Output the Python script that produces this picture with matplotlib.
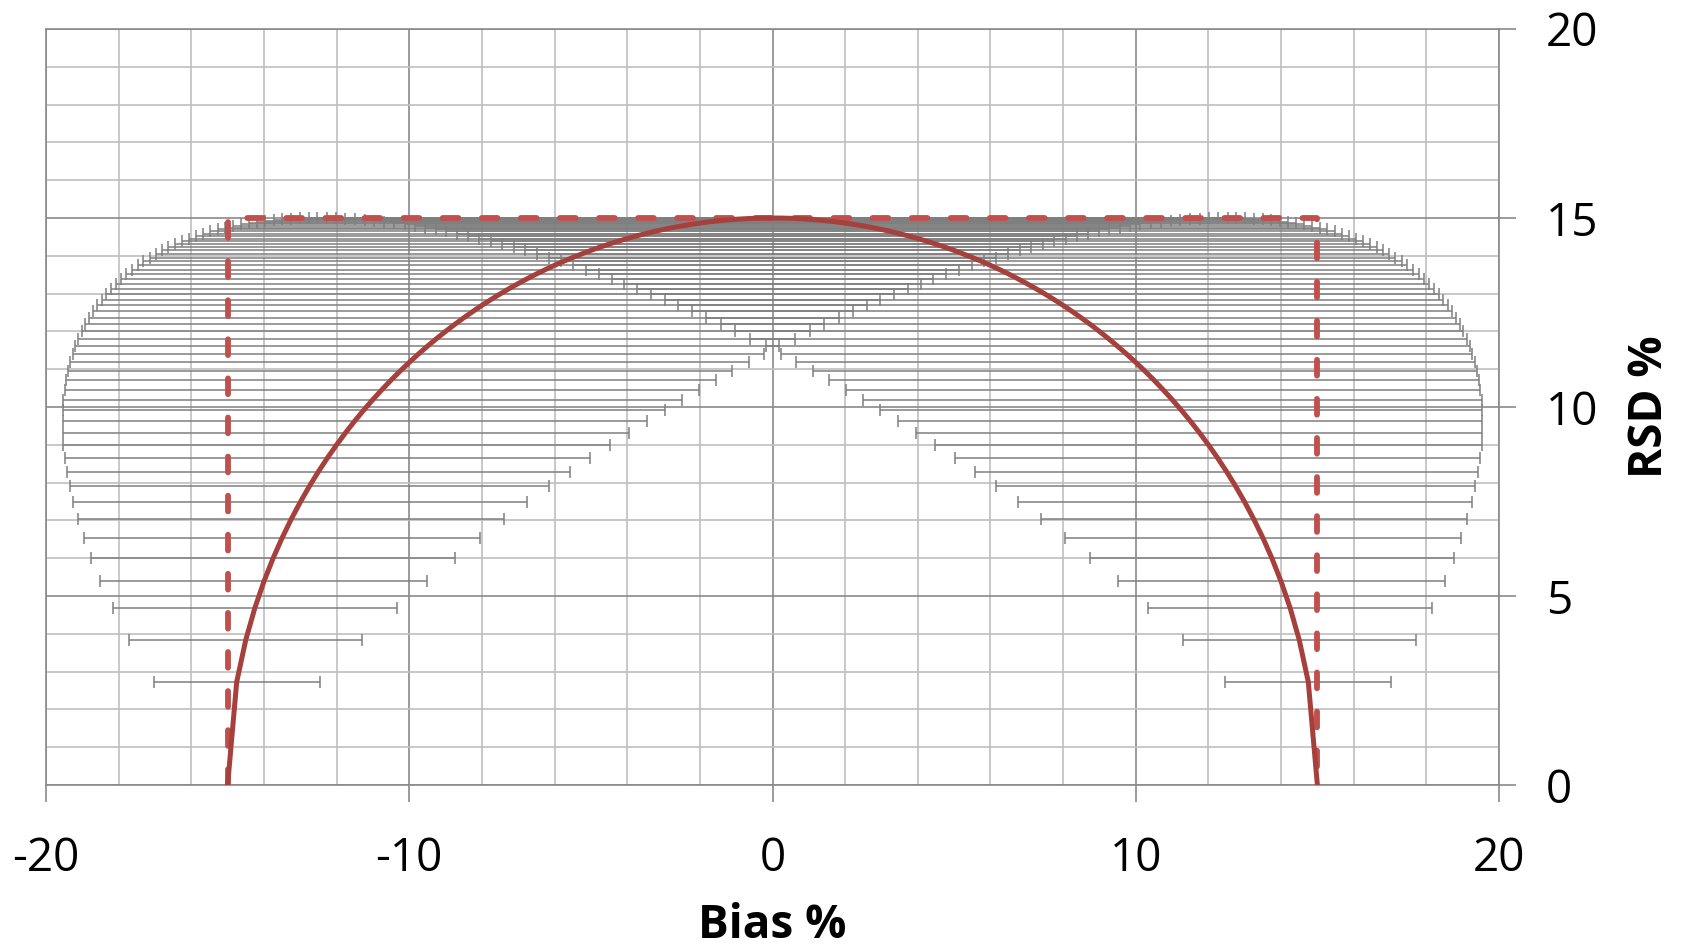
import matplotlib
matplotlib.use('Agg')
import matplotlib.pyplot as plt
from matplotlib.ticker import MultipleLocator

plt.rcParams['font.family'] = ['Open Sans', 'DejaVu Sans']
plt.rcParams['axes.unicode_minus'] = False

# right half of the chart (bias >= 0); the left half is its mirror image
bias_half = [0.0, 0.25, 0.5, 0.75, 1.0, 1.25, 1.5, 1.75, 2.0, 2.25,
             2.5, 2.75, 3.0, 3.25, 3.5, 3.75, 4.0, 4.25, 4.5, 4.75,
             5.0, 5.25, 5.5, 5.75, 6.0, 6.25, 6.5, 6.75, 7.0, 7.25,
             7.5, 7.75, 8.0, 8.25, 8.5, 8.75, 9.0, 9.25, 9.5, 9.75,
             10.0, 10.25, 10.5, 10.75, 11.0, 11.25, 11.5, 11.75, 12.0, 12.25,
             12.5, 12.75, 13.0, 13.25, 13.5, 13.75, 14.0, 14.25, 14.5, 14.75]
rsd_half = [15.00, 14.998, 14.992, 14.981, 14.967, 14.948, 14.925, 14.898, 14.866, 14.830,
            14.790, 14.746, 14.697, 14.644, 14.586, 14.524, 14.457, 14.385, 14.309, 14.228,
            14.142, 14.051, 13.955, 13.854, 13.748, 13.636, 13.519, 13.395, 13.266, 13.132,
            12.990, 12.843, 12.689, 12.527, 12.359, 12.184, 12.000, 11.808, 11.608, 11.399,
            11.180, 10.952, 10.712, 10.461, 10.198, 9.922, 9.631, 9.324, 9.000, 8.657,
            8.292, 7.902, 7.483, 7.031, 6.538, 5.995, 5.385, 4.684, 3.841, 2.727]
err_half = [12.53, 12.52, 12.52, 12.51, 12.50, 12.48, 12.46, 12.44, 12.41, 12.38,
            12.35, 12.31, 12.27, 12.23, 12.18, 12.13, 12.07, 12.01, 11.95, 11.88,
            11.81, 11.73, 11.65, 11.57, 11.48, 11.39, 11.29, 11.18, 11.08, 10.97,
            10.85, 10.72, 10.60, 10.46, 10.32, 10.17, 10.02, 9.86, 9.69, 9.52,
            9.34, 9.14, 8.94, 8.74, 8.52, 8.28, 8.04, 7.79, 7.52, 7.23,
            6.92, 6.60, 6.25, 5.87, 5.46, 5.01, 4.50, 3.91, 3.21, 2.28]

# acceptance limits (dashed box) and the end points of the curve on the x axis
limit_x = [-15, -15, 15, 15]
limit_y = [0, 15, 15, 0]
curve_end_x = [-15, 15]
curve_end_y = [0, 0]

bias = [-b for b in reversed(bias_half[1:])] + bias_half
rsd = list(reversed(rsd_half[1:])) + rsd_half
err = list(reversed(err_half[1:])) + err_half

fig = plt.figure(figsize=(16.85, 9.47), dpi=100)
ax = fig.add_axes([46 / 1685, 1 - 785 / 947, (1499 - 46) / 1685, (785 - 29) / 947])

ax.errorbar(bias, rsd, xerr=err, fmt='none', ecolor='#7f7f7f',
            elinewidth=1.1, capsize=4, capthick=1.1, zorder=3)

ax.plot(limit_x, limit_y, color='#C0504D', lw=4.2, linestyle=(0, (2.7, 4.0)),
        dash_capstyle='round', zorder=4)

cx = [curve_end_x[0]] + bias + [curve_end_x[1]]
cy = [curve_end_y[0]] + rsd + [curve_end_y[1]]
ax.plot(cx, cy, color='#A6403C', lw=3.6, solid_joinstyle='round',
        solid_capstyle='round', zorder=5)

ax.set_xlim(-20, 20)
ax.set_ylim(0, 20)
ax.xaxis.set_major_locator(MultipleLocator(10))
ax.xaxis.set_minor_locator(MultipleLocator(2))
ax.yaxis.set_major_locator(MultipleLocator(5))
ax.yaxis.set_minor_locator(MultipleLocator(1))

ax.grid(which='minor', color='#bfbfbf', lw=1.2, zorder=0)
ax.grid(which='major', color='#8a8a8a', lw=1.2, zorder=0)
ax.set_axisbelow(True)

ax.yaxis.tick_right()
ax.yaxis.set_label_position('right')
ax.tick_params(which='major', length=12, width=1.2, color='#8a8a8a',
               labelsize=33, direction='out')
ax.tick_params(axis='x', pad=25)
ax.tick_params(axis='y', pad=22)
ax.tick_params(which='minor', length=0)

for s in ax.spines.values():
    s.set_color('#8a8a8a')
    s.set_linewidth(1.2)

ax.set_xlabel('Bias %', fontsize=33, fontweight='bold', labelpad=14)
ax.set_ylabel('RSD %', fontsize=33, fontweight='bold', labelpad=20)

fig.savefig('out.png', dpi=100)
